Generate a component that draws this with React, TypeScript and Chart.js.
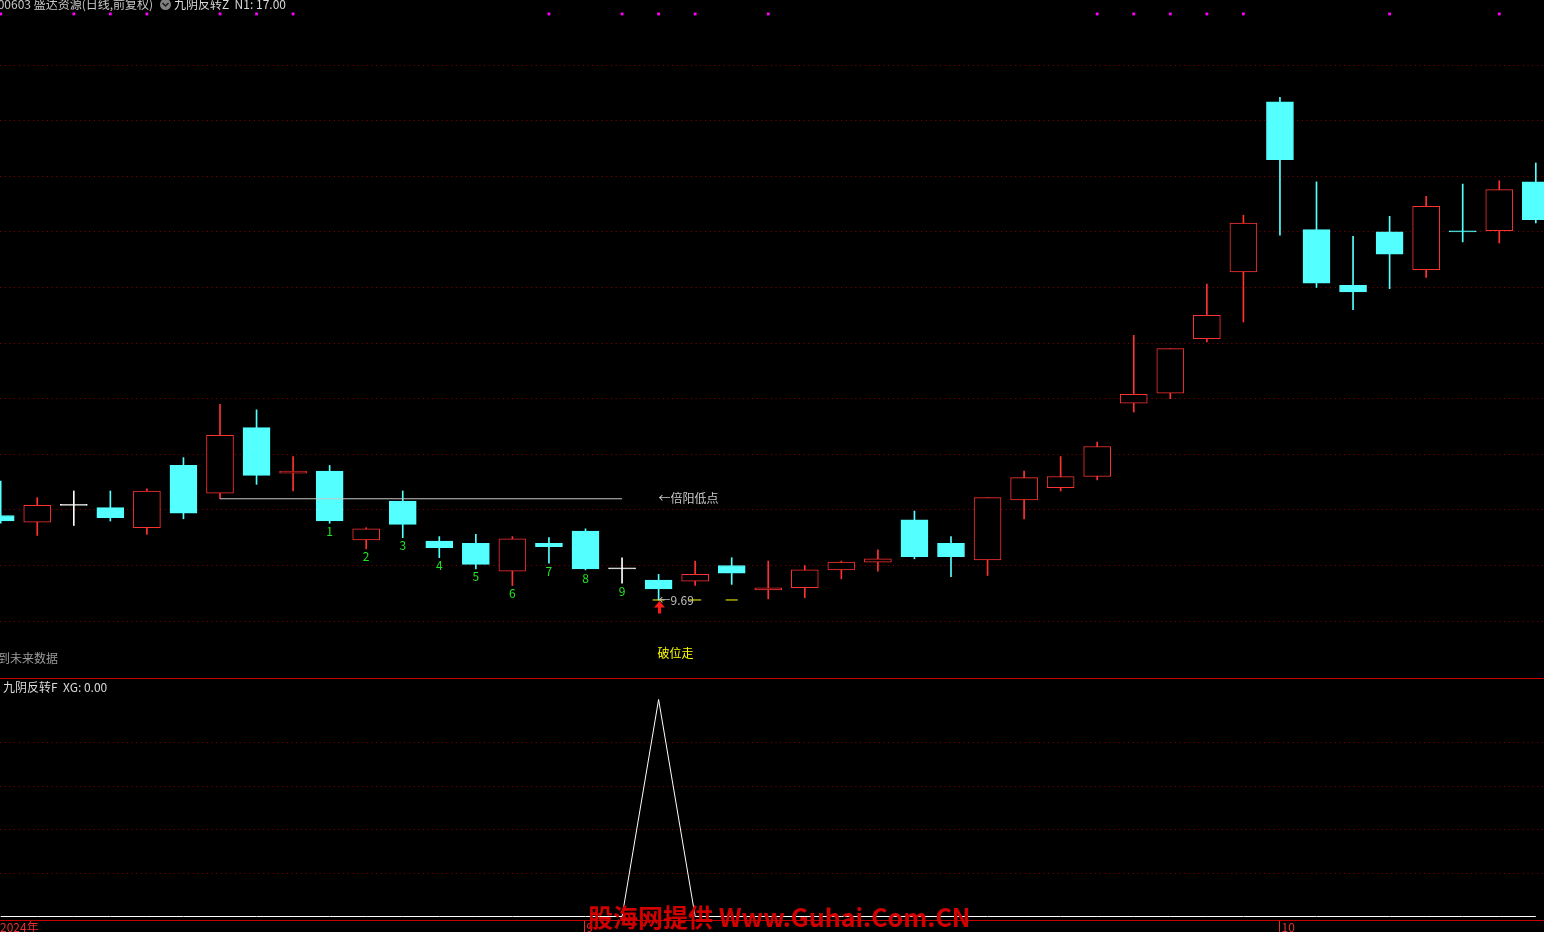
import React, { useEffect, useRef } from 'react';
import { Chart, registerables } from 'chart.js';

Chart.register(...registerables);

// ---- data ----
const opens = [10.45, 10.39, 10.54, 10.52, 10.34, 10.90, 10.65, 11.24, 10.83, 10.85, 10.23, 10.58, 10.22, 10.20, 9.95, 10.20, 10.31, 9.97, 9.87, 9.86, 10.00, 9.78, 9.80, 9.96, 10.03, 10.41, 10.20, 10.05, 10.59, 10.70, 10.80, 11.46, 11.55, 12.04, 12.64, 14.17, 13.02, 12.52, 13.00, 12.66, 13.01, 13.01, 13.45];
const highs = [10.76, 10.61, 10.67, 10.67, 10.69, 10.97, 11.45, 11.40, 10.98, 10.90, 10.34, 10.67, 10.26, 10.28, 10.26, 10.25, 10.33, 10.07, 9.92, 10.04, 10.07, 10.04, 10.00, 10.04, 10.14, 10.49, 10.26, 10.61, 10.85, 10.98, 11.11, 12.07, 11.95, 12.53, 13.15, 14.21, 13.45, 12.96, 13.14, 13.32, 13.43, 13.46, 13.62];
const lows = [10.38, 10.27, 10.36, 10.40, 10.28, 10.42, 10.60, 10.73, 10.67, 10.38, 10.15, 10.25, 10.07, 9.97, 9.82, 10.02, 9.96, 9.84, 9.69, 9.82, 9.83, 9.70, 9.71, 9.88, 9.95, 10.06, 9.90, 9.91, 10.42, 10.67, 10.77, 11.38, 11.50, 12.01, 12.19, 12.97, 12.50, 12.30, 12.49, 12.59, 12.91, 12.90, 13.08];
const closes = [10.40, 10.54, 10.54, 10.43, 10.67, 10.47, 11.17, 10.81, 10.85, 10.40, 10.33, 10.37, 10.16, 10.01, 10.24, 10.17, 9.97, 9.97, 9.79, 9.92, 9.93, 9.80, 9.96, 10.03, 10.06, 10.08, 10.08, 10.61, 10.79, 10.80, 11.07, 11.54, 11.95, 12.25, 13.08, 13.65, 12.54, 12.46, 12.80, 13.23, 13.00, 13.38, 13.11];
const xgValues = [0, 0, 0, 0, 0, 0, 0, 0, 0, 0, 0, 0, 0, 0, 0, 0, 0, 0, 1, 0, 0, 0, 0, 0, 0, 0, 0, 0, 0, 0, 0, 0, 0, 0, 0, 0, 0, 0, 0, 0, 0, 0, 0];
const signalDotIdx = [0, 2, 3, 4, 6, 7, 8, 15, 17, 18, 19, 21, 30, 31, 32, 33, 34, 38, 41];
const signalDotLevel = 14.96;
const countIdx = [9, 10, 11, 12, 13, 14, 15, 16, 17];
const countLabels = ['1', '2', '3', '4', '5', '6', '7', '8', '9'];
const refLineIdx = [6, 17];
const refLinePrice = 10.6;
const refLineLabel = '←倍阳低点';
const lowMarkIdx = [18, 19, 20];
const lowMarkPrice = 9.69;
const lowMarkLabel = '←9.69';
const signalIdx = 18;
const signalText = '破位走';
const priceGrid = [9.5, 10, 10.5, 11, 11.5, 12, 12.5, 13, 13.5, 14, 14.5];
const xgGrid = [0.2, 0.4, 0.6, 0.8];
const monthTickIdx = [16, 35];
const monthTickLabels = ['9', '10'];
const yearLabel = '2024年';

const W = 1544;
const H = 932;
// scale windows
const X_MIN = -0.01915;
const X_MAX = X_MIN + W / 36.55;
const Y_MAX = 10 + 565.5 / 111.2;
const Y_MIN = Y_MAX - H / 111.2;
const Y2_MAX = 1 + 699.5 / 217;
const Y2_MIN = Y2_MAX - H / 217;

const RED = '#FF3232';
const CYAN = '#54FFFF';
const WHITE = '#FFFFFF';
const FONT = "12px 'Noto Sans CJK SC', 'Noto Sans', sans-serif";

const kind = opens.map((o, i) => (closes[i] > o ? 'up' : closes[i] < o ? 'down' : 'flat'));
const edgeColor = kind.map((k) => (k === 'up' ? RED : k === 'down' ? CYAN : WHITE));
const fillColor = kind.map((k) => (k === 'up' ? '#000000' : k === 'down' ? CYAN : WHITE));

function text(ctx: CanvasRenderingContext2D, s: string, x: number, y: number, color: string, align: CanvasTextAlign = 'left', font = FONT) {
  ctx.font = font;
  ctx.fillStyle = color;
  ctx.textAlign = align;
  ctx.textBaseline = 'middle';
  ctx.fillText(s, x, y);
}

const overlay = {
  id: 'overlay',
  beforeDraw(chart: any) {
    const ctx = chart.ctx as CanvasRenderingContext2D;
    ctx.save();
    ctx.fillStyle = '#000';
    ctx.fillRect(0, 0, W, H);
    ctx.restore();
  },
  beforeDatasetsDraw(chart: any) {
    const ctx = chart.ctx as CanvasRenderingContext2D;
    const { y, y2 } = chart.scales;
    ctx.save();
    ctx.strokeStyle = '#8A0000';
    ctx.lineWidth = 1;
    ctx.setLineDash([1, 3.7]);
    const hl = (py: number) => {
      const yy = Math.floor(py) + 0.5;
      ctx.beginPath();
      ctx.moveTo(0, yy);
      ctx.lineTo(W, yy);
      ctx.stroke();
    };
    priceGrid.forEach((v) => hl(y.getPixelForValue(v)));
    xgGrid.forEach((v) => hl(y2.getPixelForValue(v)));
    ctx.setLineDash([]);
    ctx.strokeStyle = '#C80000';
    [678.5, 920.5].forEach((yy) => {
      ctx.beginPath();
      ctx.moveTo(0, yy);
      ctx.lineTo(W, yy);
      ctx.stroke();
    });
    ctx.restore();
  },
  afterDatasetsDraw(chart: any) {
    const ctx = chart.ctx as CanvasRenderingContext2D;
    const { x, y } = chart.scales;
    ctx.save();
    // header
    text(ctx, '000603 盛达资源(日线,前复权)', -9, 4, '#C8C8C8');
    ctx.fillStyle = '#808080';
    ctx.beginPath();
    ctx.arc(165.5, 4.5, 5.5, 0, Math.PI * 2);
    ctx.fill();
    ctx.strokeStyle = '#1A1A1A';
    ctx.lineWidth = 1.5;
    ctx.beginPath();
    ctx.moveTo(162.5, 3);
    ctx.lineTo(165.5, 6);
    ctx.lineTo(168.5, 3);
    ctx.stroke();
    text(ctx, '九阴反转Z  N1: 17.00', 174, 4, '#D8D8D8');

    // count labels under candles
    countIdx.forEach((i, k) => {
      text(ctx, countLabels[k], x.getPixelForValue(i), y.getPixelForValue(lows[i]) + 8, '#22E622', 'center');
    });

    // reference line label
    text(ctx, refLineLabel, x.getPixelForValue(signalIdx), y.getPixelForValue(refLinePrice), '#C8C8C8');
    // low label
    text(ctx, lowMarkLabel, x.getPixelForValue(signalIdx), y.getPixelForValue(lowMarkPrice), '#C0C0C0');

    // red up arrow under the signal candle
    const ax = Math.round(x.getPixelForValue(signalIdx)) + 0.5;
    const ay = y.getPixelForValue(lows[signalIdx]) + 1;
    ctx.fillStyle = '#FF1A1A';
    ctx.beginPath();
    ctx.moveTo(ax, ay);
    ctx.lineTo(ax + 5.5, ay + 6.5);
    ctx.lineTo(ax - 5.5, ay + 6.5);
    ctx.closePath();
    ctx.fill();
    ctx.fillRect(ax - 1.5, ay + 6, 3, 6.5);

    // signal text
    text(ctx, signalText, x.getPixelForValue(signalIdx) - 1, 653, '#FFFF00');
    text(ctx, '到未来数据', -2, 658, '#9A9A9A');
    text(ctx, '九阴反转F  XG: 0.00', 3, 687, '#DADADA');

    // bottom axis
    text(ctx, yearLabel, 0, 927, '#E03030');
    monthTickIdx.forEach((i, k) => {
      const px = Math.round(x.getPixelForValue(i)) - 0.5;
      ctx.strokeStyle = '#E03030';
      ctx.lineWidth = 1;
      ctx.beginPath();
      ctx.moveTo(px, 921);
      ctx.lineTo(px, H);
      ctx.stroke();
      text(ctx, monthTickLabels[k], px + 2, 927, '#E03030');
    });

    // watermark
    text(ctx, '股海网提供 Www.Guhai.Com.CN', 588, 917, '#D00000', 'left', "bold 25px 'Noto Sans CJK SC', 'Noto Sans', sans-serif");
    ctx.restore();
  },
};

export default function App() {
  const ref = useRef<HTMLCanvasElement>(null);
  useEffect(() => {
    const canvas = ref.current!;
    const idx = opens.map((_, i) => i);
    const chart = new Chart(canvas, {
      type: 'bar',
      data: {
        datasets: [
          {
            type: 'bar',
            label: 'body',
            data: idx.map((i) => ({ x: i, y: [opens[i], closes[i]] })) as any,
            backgroundColor: fillColor,
            borderColor: edgeColor,
            borderWidth: 1,
            borderSkipped: false,
            barThickness: 27,
            minBarLength: 1,
            grouped: false,
            order: 1,
          } as any,
          {
            type: 'bar',
            label: 'wick',
            data: idx.map((i) => ({ x: i, y: [lows[i], highs[i]] })) as any,
            backgroundColor: edgeColor,
            borderWidth: 0,
            barThickness: 1,
            grouped: false,
            order: 2,
          } as any,
          {
            type: 'line',
            label: 'ref',
            data: refLineIdx.map((i) => ({ x: i, y: refLinePrice })),
            borderColor: '#C8C8C8',
            borderWidth: 1,
            pointRadius: 0,
            order: 0,
          } as any,
          {
            type: 'scatter',
            label: 'lowmark',
            data: lowMarkIdx.map((i) => ({ x: i, y: lowMarkPrice })),
            pointStyle: 'line',
            pointRadius: 6,
            borderColor: '#FFFF00',
            borderWidth: 1,
            order: 0,
          } as any,
          {
            type: 'scatter',
            label: 'dots',
            data: signalDotIdx.map((i) => ({ x: i, y: signalDotLevel })),
            pointStyle: 'rect',
            pointRadius: 2,
            backgroundColor: '#FF00FF',
            borderWidth: 0,
            order: 0,
          } as any,
          {
            type: 'line',
            label: 'XG',
            yAxisID: 'y2',
            data: idx.map((i) => ({ x: i, y: xgValues[i] })),
            borderColor: '#FFFFFF',
            borderWidth: 1,
            pointRadius: 0,
            order: 0,
          } as any,
        ],
      },
      options: {
        responsive: false,
        animation: false,
        events: [],
        layout: { padding: 0, autoPadding: false },
        plugins: { legend: { display: false }, tooltip: { enabled: false }, title: { display: false } },
        scales: {
          x: { type: 'linear', display: false, min: X_MIN, max: X_MAX, offset: false },
          y: { type: 'linear', display: false, min: Y_MIN, max: Y_MAX },
          y2: { type: 'linear', display: false, min: Y2_MIN, max: Y2_MAX },
        },
      } as any,
      plugins: [overlay],
    });
    return () => chart.destroy();
  }, []);
  return (
    <div style={{ position: 'fixed', left: 0, top: 0, width: W, height: H, background: '#000', overflow: 'hidden' }}>
      <canvas ref={ref} width={W} height={H} style={{ display: 'block', width: W, height: H }} />
    </div>
  );
}
